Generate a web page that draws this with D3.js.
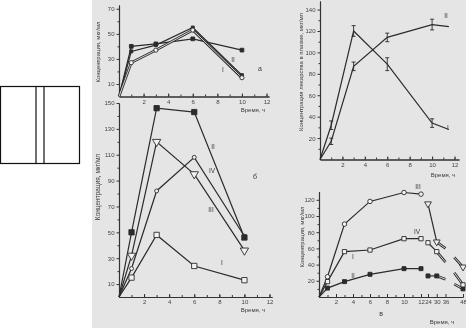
<!DOCTYPE html>
<html>
<head>
<meta charset="utf-8">
<script src="https://cdn.jsdelivr.net/npm/d3@7"></script>
<style>
  body { margin: 0; background: #fff; }
  svg { filter: grayscale(1); }
  svg text { font-family: "Liberation Sans", Arial, sans-serif; fill: #3a3a3a; }
  .axis path, .axis line { stroke: #333; }
  .axis text { font-size: 6px; fill: #444; }
</style>
</head>
<body>
<svg id="chart" width="466" height="328"></svg>
<script>
// panel а
var timeA = [0, 1, 3, 6, 10];
var aI = [0, 27, 37, 53, 15];
var aII = [0, 36, 41, 55, 17];
var aIII = [0, 40, 42, 46, 37];
var yTicksA = [10, 30, 50, 70];

// panel б
var timeB = [0, 1, 3, 6, 10];
var bI = [0, 15, 48, 24, 13];
var bII = [0, 50, 146, 143, 46];
var bIII = [0, 22, 82, 108, 47];
var bIV = [0, 32, 120, 95, 36];
var yTicksB = [10, 30, 50, 70, 90, 110, 130, 150];

var xTicks = [2, 4, 6, 8, 10, 12];

// plasma panel (top right)
var timeC = [0, 1, 3, 6, 10, 11.5];
var cI = [0, 32, 120, 89, 34, 28];
var cII = [0, 17, 87, 114, 126, 124];
var cErrI = [0, 4, 5, 6, 4, 0];
var cErrII = [0, 3, 4, 4, 5, 0];
var yTicksC = [20, 40, 60, 80, 100, 120, 140];

// panel в
var timeD = [0, 1, 3, 6, 10, 12];
var dII = [0, 11, 19, 28, 35, 35];
var dIII = [0, 25, 90, 118, 129, 127];
var dIV = [0, 19, 56, 58, 72, 72];
var timeDLate = [24, 30];
var dIILate = [26, 26];
var dIIILate = [115, 68];
var dIVLate = [67, 56];
var stubTime = [30, 36];
var stubII = [26, 22];
var stubIII = [68, 60];
var stubIV = [56, 43];
var endTime = [42, 48];
var endII = [16, 10];
var endIII = [49, 37];
var endIV = [30, 15];
var yTicksD = [20, 40, 60, 80, 100, 120];
var xTicksD = [2, 4, 6, 8, 10, 12, 24, 30, 36, 48];

var svg = d3.select("#chart");
var ink = "#2b2b2b", paper = "#e5e5e5";

svg.append("rect").attr("x", 92).attr("y", 0).attr("width", 374).attr("height", 328)
  .attr("fill", paper);

// the small box on the left
svg.append("rect").attr("x", 0.5).attr("y", 86.5).attr("width", 79).attr("height", 77)
  .attr("fill", "#fff").attr("stroke", "#111").attr("stroke-width", 1.2);
[36, 44].forEach(function(x) {
  svg.append("line").attr("x1", x).attr("x2", x).attr("y1", 86.5).attr("y2", 163.5)
    .attr("stroke", "#111").attr("stroke-width", 1.2);
});

function axes(x, y, yTicks, xT, minorX, minorY) {
  var g = svg.append("g");
  var y0 = y(0), x0 = x(0);
  g.append("g").attr("class", "axis")
    .attr("transform", "translate(0," + y0 + ")")
    .call(d3.axisBottom(x).tickValues(minorX).tickSize(-2).tickSizeOuter(0).tickFormat(""));
  g.append("g").attr("class", "axis")
    .attr("transform", "translate(0," + y0 + ")")
    .call(d3.axisBottom(x).tickValues(xT).tickSize(-3).tickSizeOuter(0).tickPadding(3));
  g.append("g").attr("class", "axis")
    .attr("transform", "translate(" + x0 + ",0)")
    .call(d3.axisLeft(y).tickValues(minorY).tickSize(1.5).tickSizeOuter(0).tickFormat(""));
  g.append("g").attr("class", "axis")
    .attr("transform", "translate(" + x0 + ",0)")
    .call(d3.axisLeft(y).tickValues(yTicks).tickSize(2.5).tickSizeOuter(0).tickPadding(2));
  g.selectAll(".axis .domain").attr("stroke-width", 1.1);
  return g;
}

function drawLine(x, y, ts, vs, hollow) {
  var line = d3.line().x(function(d, i) { return x(ts[i]); }).y(function(d) { return y(d); });
  if (hollow) {
    svg.append("path").attr("d", line(vs)).attr("fill", "none")
      .attr("stroke", ink).attr("stroke-width", 2.6);
    svg.append("path").attr("d", line(vs)).attr("fill", "none")
      .attr("stroke", paper).attr("stroke-width", 0.9);
  } else {
    svg.append("path").attr("d", line(vs)).attr("fill", "none")
      .attr("stroke", ink).attr("stroke-width", 1.2);
  }
}

function drawMarks(x, y, ts, vs, type, filled, size, rot) {
  svg.append("g").selectAll("path")
    .data(vs.slice(1))
    .enter().append("path")
    .attr("d", d3.symbol().type(type).size(size))
    .attr("transform", function(d, i) {
      return "translate(" + x(ts[i + 1]) + "," + y(d) + ")" + (rot ? " rotate(180)" : "");
    })
    .attr("fill", filled ? ink : "#f2f2f2")
    .attr("stroke", ink).attr("stroke-width", 0.9);
}

function label(txt, x, y, size, anchor) {
  svg.append("text").attr("x", x).attr("y", y).attr("dy", "0.35em")
    .attr("font-size", size || 7).attr("text-anchor", anchor || "middle").text(txt);
}

function yLabel(txt, x, y, size) {
  svg.append("text").attr("transform", "translate(" + x + "," + y + ") rotate(-90)")
    .attr("text-anchor", "middle").attr("font-size", size).text(txt);
}

var minor12 = d3.range(1, 13, 1);

// ---- panel а
var xA = d3.scaleLinear().domain([0, 12.2]).range([119, 269]);
var yA = d3.scaleLinear().domain([0, 73]).range([96.5, 5]);
axes(xA, yA, yTicksA, xTicks, minor12, [20, 40, 60]);
drawLine(xA, yA, timeA, aIII, false);
drawLine(xA, yA, timeA, aII, false);
drawLine(xA, yA, timeA, aI, true);
drawMarks(xA, yA, timeA, aIII, d3.symbolSquare, true, 14);
drawMarks(xA, yA, timeA, aII, d3.symbolSquare, true, 9);
drawMarks(xA, yA, timeA, aI, d3.symbolCircle, false, 14);
label("II", 233, 60, 6.5);
label("I", 223, 70, 6.5);
label("а", 260, 69, 7);
label("Время, ч", 253, 110, 6);
yLabel("Концентрация, мкг/мл", 100, 52, 6);

// ---- panel б
var xB = d3.scaleLinear().domain([0, 12.2]).range([119, 272]);
var yB = d3.scaleLinear().domain([0, 150]).range([297, 103]);
axes(xB, yB, yTicksB, xTicks, minor12, [20, 40, 60, 80, 100, 120, 140]);
drawLine(xB, yB, timeB, bI, false);
drawLine(xB, yB, timeB, bIII, false);
drawLine(xB, yB, timeB, bIV, false);
drawLine(xB, yB, timeB, bII, false);
drawMarks(xB, yB, timeB, bI, d3.symbolSquare, false, 28);
drawMarks(xB, yB, timeB, bIII, d3.symbolCircle, false, 12);
drawMarks(xB, yB, timeB, bIV, d3.symbolTriangle, false, 30, true);
drawMarks(xB, yB, timeB, bII, d3.symbolSquare, true, 28);
label("II", 213, 147, 6.5);
label("IV", 212, 171, 6.5);
label("б", 255, 177, 7);
label("III", 211, 210, 6.5);
label("I", 222, 263, 6.5);
label("Время, ч", 253, 310, 6);
yLabel("Концентрация, мкг/мл", 100, 187, 6.5);

// ---- plasma panel
var xC = d3.scaleLinear().domain([0, 12.4]).range([320, 459]);
var yC = d3.scaleLinear().domain([0, 148]).range([159.5, 1]);
axes(xC, yC, yTicksC, xTicks, minor12, [10, 30, 50, 70, 90, 110, 130]);
drawLine(xC, yC, timeC, cI, false);
drawLine(xC, yC, timeC, cII, false);
[[cI, cErrI], [cII, cErrII]].forEach(function(s) {
  var g = svg.append("g").attr("stroke", ink).attr("stroke-width", 0.9);
  s[0].forEach(function(v, i) {
    var e = s[1][i];
    if (!e) return;
    var px = xC(timeC[i]);
    g.append("line").attr("x1", px).attr("x2", px).attr("y1", yC(v - e)).attr("y2", yC(v + e));
    [v - e, v + e].forEach(function(w) {
      g.append("line").attr("x1", px - 2).attr("x2", px + 2).attr("y1", yC(w)).attr("y2", yC(w));
    });
  });
});
label("II", 446, 16, 6.5);
label("I", 448, 128, 6.5);
label("Время, ч", 443, 175, 6);
yLabel("Концентрация лекарства в плазме, мкг/мл", 303, 72, 6);

// ---- panel в
var xD = d3.scaleLinear().domain([0, 12, 24, 48]).range([319, 421, 428, 463]);
var yD = d3.scaleLinear().domain([0, 130]).range([297, 191.7]);
axes(xD, yD, yTicksD, xTicksD, [1, 3, 5, 7, 9, 11], [10, 30, 50, 70, 90, 110]);
[[dII, dIILate, stubII, endII], [dIV, dIVLate, stubIV, endIV], [dIII, dIIILate, stubIII, endIII]]
  .forEach(function(s) {
    drawLine(xD, yD, timeD, s[0], false);
    drawLine(xD, yD, timeDLate, s[1], false);
    drawLine(xD, yD, stubTime, s[2], true);
    drawLine(xD, yD, endTime, s[3], true);
  });
drawMarks(xD, yD, timeD, dII, d3.symbolSquare, true, 16);
drawMarks(xD, yD, timeD, dIV, d3.symbolSquare, false, 18);
drawMarks(xD, yD, timeD, dIII, d3.symbolCircle, false, 16);
drawMarks(xD, yD, [0].concat(timeDLate), [0].concat(dIILate), d3.symbolSquare, true, 16);
drawMarks(xD, yD, [0].concat(timeDLate), [0].concat(dIVLate), d3.symbolSquare, false, 18);
drawMarks(xD, yD, [0].concat(timeDLate), [0].concat(dIIILate), d3.symbolTriangle, false, 20, true);
drawMarks(xD, yD, endTime, endII, d3.symbolSquare, true, 16);
drawMarks(xD, yD, endTime, endIV, d3.symbolSquare, false, 18);
drawMarks(xD, yD, endTime, endIII, d3.symbolTriangle, false, 20, true);
label("III", 418, 187, 6.5);
label("IV", 417, 232, 6.5);
label("I", 353, 257, 6.5);
label("II", 353, 276, 6.5);
label("в", 381, 314, 7);
label("Время, ч", 442, 322, 6);
yLabel("Концентрация, мкг/мл", 304, 237, 6);
</script>
</body>
</html>
